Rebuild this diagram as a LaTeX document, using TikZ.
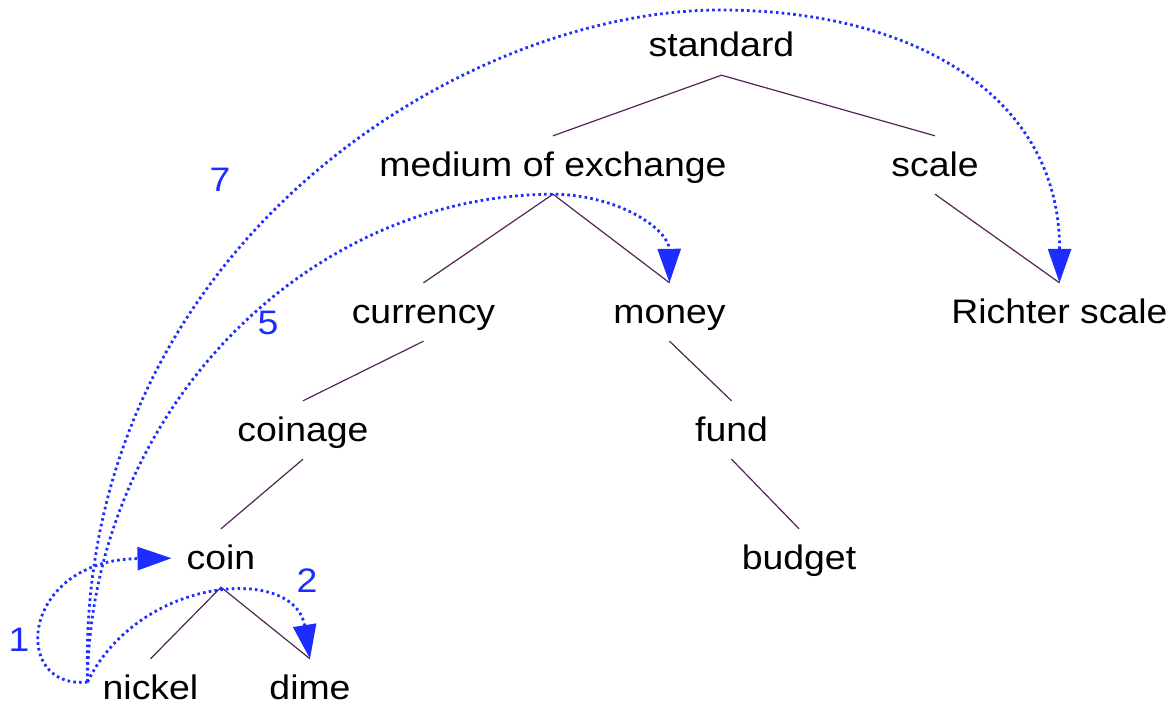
\documentclass[tikz,border=0pt]{standalone}
\usepackage{fontspec}
\setmainfont[FakeStretch=1.1]{Liberation Sans}
\usetikzlibrary{arrows.meta}
\definecolor{linkblue}{RGB}{30,45,255}
\definecolor{treeline}{RGB}{85,35,85}
\begin{document}
\begin{tikzpicture}[x=1pt,y=-1pt,
  term/.style={font=\fontsize{34}{40}\selectfont, inner sep=0pt, text height=40pt, text depth=18pt},
  lowterm/.style={font=\fontsize{34}{40}\selectfont, inner sep=0pt, text height=40pt, text depth=2pt},
  num/.style={font=\fontsize{34}{40}\selectfont, inner sep=0pt, text=linkblue},
  treeedge/.style={draw=treeline, line width=1.2pt},
  hop/.style={draw=linkblue, line width=2.8pt, dash pattern=on 2.6pt off 3.2pt, -{Triangle[length=34pt,width=23pt]}}]
\useasboundingbox (0,0) rectangle (1173,706);
% terms
\node[term] (std) at (721.5,46) {standard};
\node[term] (med) at (553,165) {medium of exchange};
\node[term] (scl) at (935,165) {scale};
\node[term] (cur) at (423.5,312) {currency};
\node[term] (mon) at (669.5,312) {money};
\node[term] (ric) at (1059.5,312) {Richter scale};
\node[term] (cng) at (303,430) {coinage};
\node[term] (fnd) at (731.5,430) {fund};
\node[term] (coi) at (221,558) {coin};
\node[term] (bud) at (799,558) {budget};
\node[lowterm] (nic) at (150.5,680) {nickel};
\node[lowterm] (dim) at (310,680) {dime};
% tree
\draw[treeedge] (med.north) -- (std.south) -- (scl.north);
\draw[treeedge] (cur.north) -- (med.south) -- (mon.north);
\draw[treeedge] (scl.south) -- (ric.north);
\draw[treeedge] (cur.south) -- (cng.north);
\draw[treeedge] (mon.south) -- (fnd.north);
\draw[treeedge] (cng.south) -- (coi.north);
\draw[treeedge] (fnd.south) -- (bud.north);
\draw[treeedge] (nic.north) -- (coi.south) -- (dim.north);
% hops
\coordinate (src) at ([xshift=-15pt,yshift=-2pt]nic.west);
\draw[hop, shorten >=15pt] (src) .. controls (10,690) and (20,560) .. (coi.west);
\draw[hop] (src) .. controls (140,575) and (295,565) .. (dim.north);
\draw[hop] (src) .. controls (90,420) and (300,195) .. (med.south) .. controls (620,195) and (669,230) .. (mon.north);
\draw[hop] (src) .. controls (75,250) and (460,10) .. (720,10) .. controls (920,10) and (1060,100) .. (ric.north);
% labels
\node[num] (n1) at (19,640) {1};
\node[num] (n2) at (307,581) {2};
\node[num] (n5) at (268,323) {5};
\node[num] (n7) at (220,180) {7};
\end{tikzpicture}
\end{document}
